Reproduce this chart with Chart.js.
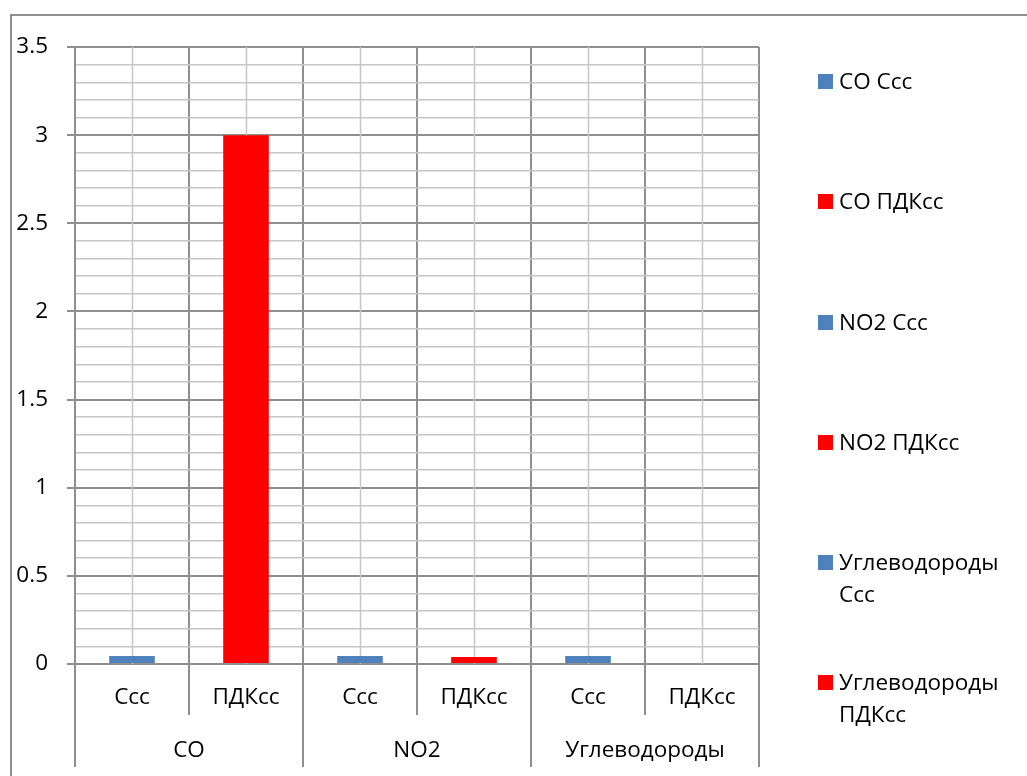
<!DOCTYPE html>
<html>
<head>
<meta charset="utf-8">
<script src="https://cdn.jsdelivr.net/npm/chart.js@4/dist/chart.umd.min.js"></script>
<style>
  html, body { margin: 0; padding: 0; background: #fff; }
  #wrap { position: relative; width: 1027px; height: 776px; overflow: hidden; }
  #frame { position: absolute; left: 10px; top: 14px; width: 1200px; height: 1000px;
           border: 2px solid #8f8f8f; box-sizing: border-box; }
  canvas { position: absolute; left: 0; top: 0; }
  #legend { position: absolute; left: 818px; top: 65px; font-family: "Open Sans", Lato, sans-serif;
            font-size: 22.5px; color: #000; }
  #legend .item { position: relative; height: 120.3px; padding-left: 21px; width: 190px; line-height: 32px; }
  #legend .sw { position: absolute; left: 0; top: 9px; width: 15px; height: 15px; }
</style>
</head>
<body>
<div id="wrap">
  <div id="frame"></div>
  <canvas id="c" width="1027" height="776"></canvas>
  <div id="legend"></div>
</div>
<script>
// Pollutant groups and their two measures
const groups = ['CO', 'NO2', 'Углеводороды'];
const subLabels = ['Ссс', 'ПДКсс', 'Ссс', 'ПДКсс', 'Ссс', 'ПДКсс'];

// One series per bar
const seriesNames = ['CO Ссс', 'CO ПДКсс', 'NO2 Ссс', 'NO2 ПДКсс', 'Углеводороды Ссс', 'Углеводороды ПДКсс'];
const seriesValues = [0.045, 3, 0.045, 0.04, 0.045, 0];
const seriesColors = ['#4f81bd', '#ff0000', '#4f81bd', '#ff0000', '#4f81bd', '#ff0000'];

// Value axis
const yMin = 0;
const yMax = 3.5;
const yMajorStep = 0.5;
const yMinorStep = 0.1;

const FONT = { family: '"Open Sans", Lato, sans-serif', size: 22.5 };
const MAJOR = '#8f8f8f';
const MINOR = '#c6c6c6';

const isMajor = v => Math.abs(v / yMajorStep - Math.round(v / yMajorStep)) < 1e-6;

const datasets = seriesNames.map((name, i) => ({
  label: name,
  data: subLabels.map((_, j) => (j === i ? seriesValues[i] : null)),
  backgroundColor: seriesColors[i],
  borderWidth: 0,
  barPercentage: 0.4,
  categoryPercentage: 1
}));

// Extra axis furniture: light centre lines, two-level category separators and group names
const groupAxis = {
  id: 'groupAxis',
  beforeDatasetsDraw(chart) {
    const { ctx, chartArea: a, scales: { x } } = chart;
    ctx.save();
    ctx.strokeStyle = MINOR;
    ctx.lineWidth = 1.5;
    subLabels.forEach((_, j) => {
      const px = Math.round(x.getPixelForValue(j)) + 0.5;
      ctx.beginPath();
      ctx.moveTo(px, a.top);
      ctx.lineTo(px, a.bottom);
      ctx.stroke();
    });
    ctx.restore();
  },
  afterDraw(chart) {
    const { ctx, chartArea: a, scales: { x } } = chart;
    const half = (x.getPixelForValue(1) - x.getPixelForValue(0)) / 2;
    const per = subLabels.length / groups.length;
    ctx.save();
    ctx.strokeStyle = MAJOR;
    ctx.lineWidth = 2;
    for (let j = 0; j <= subLabels.length; j++) {
      const px = Math.round(x.getPixelForValue(j) - half);
      const len = j % per === 0 ? 103 : 51;
      ctx.beginPath();
      ctx.moveTo(px, a.bottom);
      ctx.lineTo(px, a.bottom + len);
      ctx.stroke();
    }
    ctx.fillStyle = '#000';
    ctx.font = `${FONT.size}px ${FONT.family}`;
    ctx.textAlign = 'center';
    ctx.textBaseline = 'middle';
    groups.forEach((g, k) => {
      const l = x.getPixelForValue(k * per) - half;
      const r = x.getPixelForValue(k * per + per - 1) + half;
      ctx.fillText(g, (l + r) / 2, a.bottom + 87);
    });
    ctx.restore();
  }
};

new Chart(document.getElementById('c'), {
  type: 'bar',
  data: { labels: subLabels, datasets },
  options: {
    responsive: false,
    animation: false,
    layout: { padding: { left: 0, top: 47, right: 268, bottom: 0 } },
    plugins: { legend: { display: false }, tooltip: { enabled: false } },
    scales: {
      x: {
        stacked: true,
        offset: true,
        grid: { offset: true, color: MAJOR, lineWidth: 2, drawTicks: false },
        border: { color: MAJOR, width: 2 },
        ticks: { font: FONT, color: '#000', padding: 20, maxRotation: 0, autoSkip: false },
        afterFit: s => { s.height = 112; }
      },
      y: {
        stacked: true,
        min: yMin,
        max: yMax,
        afterBuildTicks: s => {
          const n = Math.round((yMax - yMin) / yMinorStep);
          s.ticks = Array.from({ length: n + 1 }, (_, i) => ({ value: Math.round((yMin + i * yMinorStep) * 10) / 10 }));
        },
        grid: {
          color: c => (isMajor(c.tick.value) ? MAJOR : MINOR),
          lineWidth: c => (isMajor(c.tick.value) ? 2 : 1.5),
          tickColor: c => (isMajor(c.tick.value) ? MAJOR : 'rgba(0,0,0,0)'),
          tickLength: 8
        },
        border: { color: MAJOR, width: 2 },
        ticks: {
          autoSkip: false,
          font: FONT,
          color: '#000',
          padding: 19,
          callback: v => (isMajor(v) ? String(v) : '')
        },
        afterFit: s => { s.width = 75; }
      }
    }
  },
  plugins: [groupAxis]
});

// Legend on the right
const legend = document.getElementById('legend');
seriesNames.forEach((name, i) => {
  const item = document.createElement('div');
  item.className = 'item';
  const sw = document.createElement('span');
  sw.className = 'sw';
  sw.style.background = seriesColors[i];
  item.appendChild(sw);
  item.appendChild(document.createTextNode(name));
  legend.appendChild(item);
});
</script>
</body>
</html>
